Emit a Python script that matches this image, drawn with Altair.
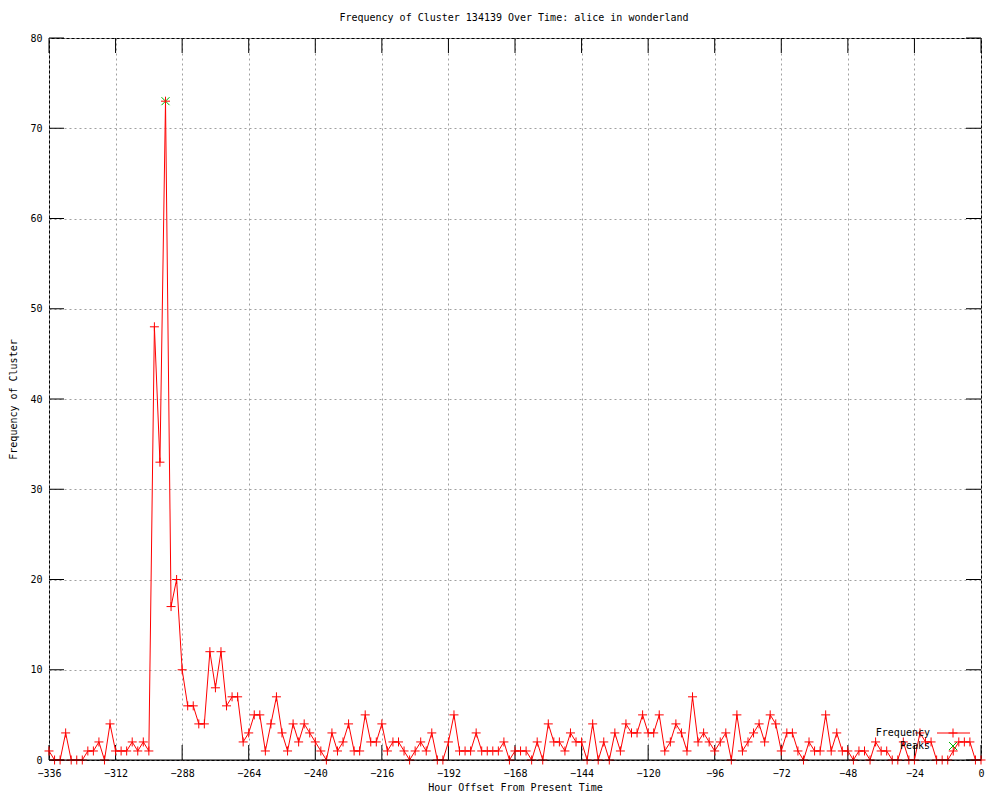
import altair as alt
import pandas as pd

# ---- data ----
hours = list(range(-336, 1, 2))
frequency = [
    1, 0, 0, 3, 0, 0, 0, 1, 1, 2,
    0, 4, 1, 1, 1, 2, 1, 2, 1, 48,
    33, 73, 17, 20, 10, 6, 6, 4, 4, 12,
    8, 12, 6, 7, 7, 2, 3, 5, 5, 1,
    4, 7, 3, 1, 4, 2, 4, 3, 2, 1,
    0, 3, 1, 2, 4, 1, 1, 5, 2, 2,
    4, 1, 2, 2, 1, 0, 1, 2, 1, 3,
    0, 0, 2, 5, 1, 1, 1, 3, 1, 1,
    1, 1, 2, 0, 1, 1, 1, 0, 2, 0,
    4, 2, 2, 1, 3, 2, 2, 0, 4, 0,
    2, 0, 3, 1, 4, 3, 3, 5, 3, 3,
    5, 1, 2, 4, 3, 1, 7, 2, 3, 2,
    1, 2, 3, 0, 5, 1, 2, 3, 4, 2,
    5, 4, 1, 3, 3, 1, 0, 2, 1, 1,
    5, 1, 3, 1, 1, 0, 1, 1, 0, 2,
    1, 1, 0, 0, 2, 0, 0, 3, 2, 2,
    0, 0, 0, 1, 2, 2, 2, 0, 0,
]
peak_hours = [-294]
peak_values = [73]
x_ticks = list(range(-336, 1, 24))
y_ticks = list(range(0, 81, 10))
legend_labels = ["Frequency", "Peaks"]

TITLE = "Frequency of Cluster 134139 Over Time: alice in wonderland"
X_TITLE = "Hour Offset From Present Time"
Y_TITLE = "Frequency of Cluster"

# ---- styling ----
W, H = 932, 722
MONO = "DejaVu Sans Mono"
RED = "#ff0000"
GREEN = "#00b000"
PLUS = "M-1,0L1,0M0,-1L0,1"
CROSS = "M-1,-1L1,1M1,-1L-1,1"
TICK = 15

df = pd.DataFrame({"hour": hours, "freq": frequency})
peaks = pd.DataFrame({"hour": peak_hours, "freq": peak_values})
xt = pd.DataFrame({"hour": x_ticks})
yt = pd.DataFrame({"freq": y_ticks})
title_df = pd.DataFrame({"t": [TITLE]})

xscale = alt.Scale(domain=[-336, 0], nice=False, zero=False)
yscale = alt.Scale(domain=[0, 80], nice=False, zero=True)

x_enc = alt.X("hour:Q", scale=xscale,
              axis=alt.Axis(values=x_ticks, title=X_TITLE, labelPadding=8,
                            titleY=30, titleBaseline="alphabetic",
                            labelFlush=False, labelOverlap=False))
y_enc = alt.Y("freq:Q", scale=yscale,
              axis=alt.Axis(values=y_ticks, title=Y_TITLE, labelPadding=7,
                            titlePadding=11, labelFlush=False, labelOverlap=False))

line = alt.Chart(df).mark_line(color=RED, strokeWidth=1).encode(x=x_enc, y=y_enc)

tick_b = alt.Chart(xt).mark_rule(color="black", strokeWidth=1).encode(
    x="hour:Q", y=alt.value(H), y2=alt.value(H - TICK))
tick_t = alt.Chart(xt).mark_rule(color="black", strokeWidth=1).encode(
    x="hour:Q", y=alt.value(0), y2=alt.value(TICK))
tick_l = alt.Chart(yt).mark_rule(color="black", strokeWidth=1).encode(
    y="freq:Q", x=alt.value(0), x2=alt.value(TICK))
tick_r = alt.Chart(yt).mark_rule(color="black", strokeWidth=1).encode(
    y="freq:Q", x=alt.value(W), x2=alt.value(W - TICK))

peak_pts = alt.Chart(peaks).mark_point(
    shape=CROSS, size=64, filled=False, color=GREEN, strokeWidth=1, opacity=1
).encode(x="hour:Q", y="freq:Q")

pts = alt.Chart(df).mark_point(
    shape=PLUS, size=81, filled=False, color=RED, strokeWidth=1, opacity=1
).encode(x="hour:Q", y="freq:Q")

bottom_border = alt.Chart(pd.DataFrame({"b": [0]})).mark_rule(
    color="black", strokeWidth=1).encode(
    x=alt.value(0), x2=alt.value(W), y=alt.value(H))

# chart title drawn as text above the frame
title_mark = alt.Chart(title_df).mark_text(
    align="center", baseline="middle", font=MONO, fontSize=10, color="black"
).encode(text="t:N", x=alt.value(W / 2 - 1), y=alt.value(-20))

# legend (gnuplot style: label on the left, sample on the right)
leg1 = pd.DataFrame({"label": [legend_labels[0]]})
leg2 = pd.DataFrame({"label": [legend_labels[1]]})
LX, LY1, LY2 = 881, 695, 708
leg_text1 = alt.Chart(leg1).mark_text(
    align="right", baseline="middle", font=MONO, fontSize=10, color="black"
).encode(text="label:N", x=alt.value(LX), y=alt.value(LY1))
leg_text2 = alt.Chart(leg2).mark_text(
    align="right", baseline="middle", font=MONO, fontSize=10, color="black"
).encode(text="label:N", x=alt.value(LX), y=alt.value(LY2))
leg_line = alt.Chart(leg1).mark_rule(color=RED, strokeWidth=1).encode(
    x=alt.value(LX + 7), x2=alt.value(LX + 40), y=alt.value(LY1))
leg_plus = alt.Chart(leg1).mark_point(
    shape=PLUS, size=81, filled=False, color=RED, strokeWidth=1, opacity=1
).encode(x=alt.value(LX + 23), y=alt.value(LY1))
leg_cross = alt.Chart(leg2).mark_point(
    shape=CROSS, size=64, filled=False, color=GREEN, strokeWidth=1, opacity=1
).encode(x=alt.value(LX + 23), y=alt.value(LY2))

chart = alt.layer(
    line, tick_b, tick_t, tick_l, tick_r, peak_pts, pts, bottom_border,
    title_mark, leg_text1, leg_text2, leg_line, leg_plus, leg_cross
).properties(
    width=W, height=H,
    autosize=alt.AutoSizeParams(type="none"),
    padding={"left": 41, "top": 30, "right": 11, "bottom": 32},
).configure_view(
    stroke="black", strokeWidth=1
).configure_axis(
    labelFont=MONO, labelFontSize=10, labelColor="black",
    titleFont=MONO, titleFontSize=10, titleFontWeight="normal", titleColor="black",
    grid=True, gridColor="#a0a0a0", gridDash=[2, 3], gridWidth=1, gridOpacity=1,
    domain=False, ticks=False,
)

chart.save("out.html", embed_options={"renderer": "svg", "actions": False})
